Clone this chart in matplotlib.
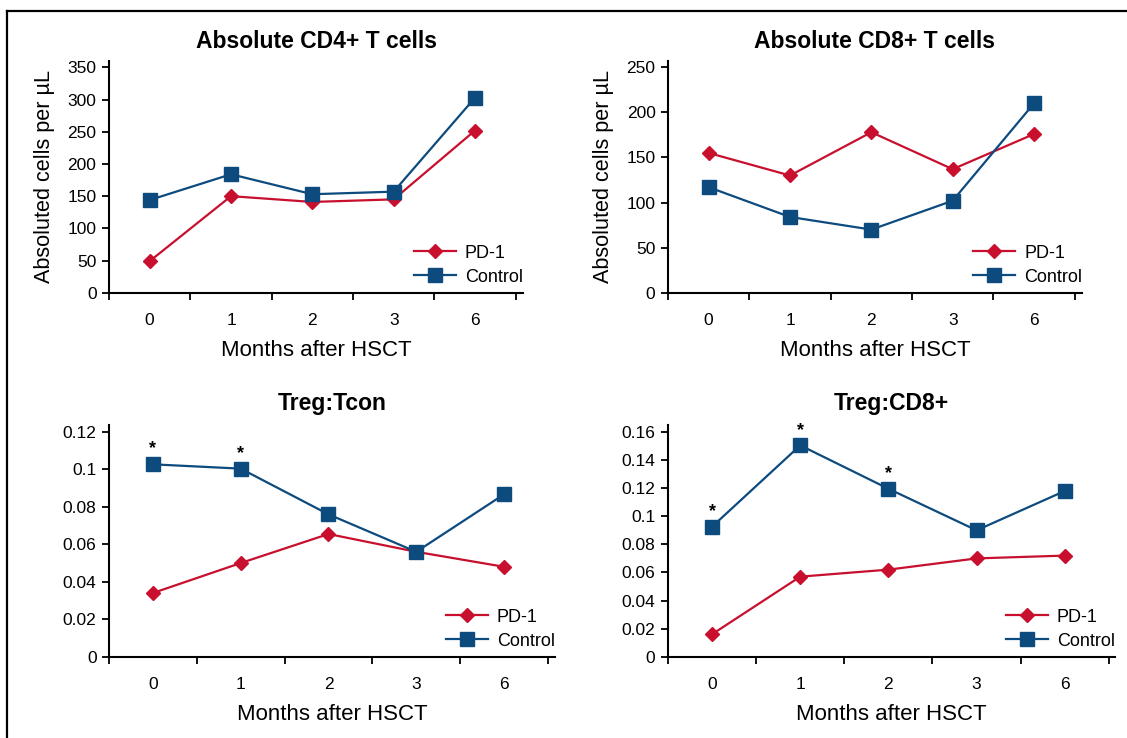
import matplotlib
matplotlib.use("Agg")
import matplotlib.pyplot as plt
from matplotlib.lines import Line2D

# data
months = ["0", "1", "2", "3", "6"]

cd4_pd1 = [49, 150, 141, 145, 252]
cd4_ctrl = [144, 184, 153, 157, 303]

cd8_pd1 = [155, 130, 178, 137, 176]
cd8_ctrl = [117, 84, 70, 102, 210]

tcon_pd1 = [0.034, 0.050, 0.0655, 0.056, 0.048]
tcon_ctrl = [0.1027, 0.1004, 0.076, 0.056, 0.0867]
tcon_stars = [0, 1]

cd8r_pd1 = [0.016, 0.057, 0.062, 0.070, 0.072]
cd8r_ctrl = [0.0926, 0.1505, 0.1196, 0.090, 0.118]
cd8r_stars = [0, 1, 2]

RED = "#C8102E"
BLUE = "#0D4A7E"

plt.rcParams["font.family"] = ["Liberation Sans", "DejaVu Sans"]

fig = plt.figure(figsize=(11.27, 7.38), dpi=100)
W, H = 1127.0, 738.0


def px_axes(left, right, top, bottom):
    return fig.add_axes([left / W, 1 - bottom / H, (right - left) / W, (bottom - top) / H])


def panel(ax, pd1, ctrl, title, ytop, yticks, yticklabels, xright, ylabel=None,
          stars=None, star_off=0.0, title_pad=9):
    x = list(range(len(months)))
    ax.plot(x, pd1, color=RED, lw=1.6, marker="D", ms=7.5, mec=RED, mfc=RED, label="PD-1", zorder=3)
    ax.plot(x, ctrl, color=BLUE, lw=1.6, marker="s", ms=10.3, mec=BLUE, mfc=BLUE, label="Control", zorder=3)
    ax.set_xlim(-0.5, xright)
    ax.set_ylim(0, ytop)
    # tick marks between the months, labels centred under each month
    ax.set_xticks([i - 0.5 for i in range(len(months) + 1)])
    ax.set_xticklabels([])
    ax.set_xticks(x, minor=True)
    ax.set_xticklabels(months, minor=True, fontsize=12.5)
    ax.tick_params(axis="x", which="major", direction="out", length=5, width=1.3)
    ax.tick_params(axis="x", which="minor", length=0, pad=14.5)
    ax.set_yticks(yticks)
    ax.set_yticklabels(yticklabels, fontsize=12.5)
    ax.tick_params(axis="y", direction="out", length=5, width=1.3, pad=4)
    for s in ["top", "right"]:
        ax.spines[s].set_visible(False)
    for s in ["left", "bottom"]:
        ax.spines[s].set_linewidth(1.5)
    ax.set_title(title, fontsize=16.5, fontweight="bold", pad=title_pad)
    ax.set_xlabel("Months after HSCT", fontsize=16, labelpad=9)
    if ylabel:
        ax.set_ylabel(ylabel, fontsize=15.6, labelpad=9)
    if stars:
        for i in stars:
            ax.text(i, ctrl[i] + star_off, "*", ha="center", va="bottom", fontsize=13, fontweight="bold")
    ax.legend(loc="lower right", bbox_to_anchor=(1.0, 0.03), frameon=False, fontsize=13,
              handlelength=2.33, handletextpad=0.5, labelspacing=0.4, borderpad=0, borderaxespad=0)


ax1 = px_axes(109, 523, 61, 292.7)
panel(ax1, cd4_pd1, cd4_ctrl, "Absolute CD4+ T cells", 360, range(0, 351, 50),
      [str(v) for v in range(0, 351, 50)], 4.59, ylabel="Absoluted cells per \u00b5L")

ax2 = px_axes(668, 1082, 61, 292.7)
panel(ax2, cd8_pd1, cd8_ctrl, "Absolute CD8+ T cells", 257, range(0, 251, 50),
      [str(v) for v in range(0, 251, 50)], 4.59, ylabel="Absoluted cells per \u00b5L")

t3 = [0, 0.02, 0.04, 0.06, 0.08, 0.1, 0.12]
ax3 = px_axes(109, 555, 425, 656.7)
panel(ax3, tcon_pd1, tcon_ctrl, "Treg:Tcon", 0.1237, t3,
      ["0", "0.02", "0.04", "0.06", "0.08", "0.1", "0.12"], 4.58, stars=tcon_stars,
      star_off=0.0037, title_pad=11)

t4 = [0, 0.02, 0.04, 0.06, 0.08, 0.1, 0.12, 0.14, 0.16]
ax4 = px_axes(668, 1115, 425, 656.7)
panel(ax4, cd8r_pd1, cd8r_ctrl, "Treg:CD8+", 0.165, t4,
      ["0", "0.02", "0.04", "0.06", "0.08", "0.1", "0.12", "0.14", "0.16"], 4.57,
      stars=cd8r_stars, star_off=0.0045, title_pad=11)

# frame lines of the original figure
fig.add_artist(Line2D([7 / W, 1.0], [1 - 10.5 / H, 1 - 10.5 / H], color="black", lw=1.6,
                      transform=fig.transFigure))
fig.add_artist(Line2D([7 / W, 7 / W], [1 - 10.5 / H, 0.0], color="black", lw=1.6,
                      transform=fig.transFigure))

fig.savefig("out.png", dpi=100)
